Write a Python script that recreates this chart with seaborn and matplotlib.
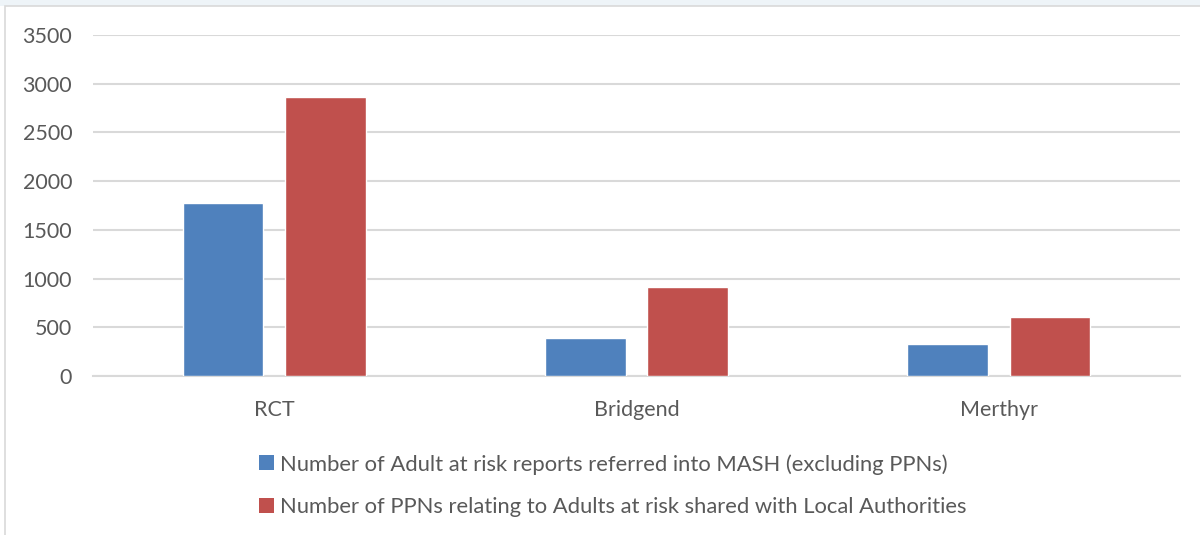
import matplotlib
matplotlib.use("Agg")
import matplotlib.pyplot as plt
import seaborn as sns
import pandas as pd
from matplotlib.patches import Rectangle, Patch

categories = ["RCT", "Bridgend", "Merthyr"]
series_names = [
    "Number of Adult at risk reports referred into MASH (excluding PPNs)",
    "Number of PPNs relating to Adults at risk shared with Local Authorities",
]
mash_reports = [1775, 390, 324]
ppns_shared = [2864, 909, 606]
y_ticks = [0, 500, 1000, 1500, 2000, 2500, 3000, 3500]
colors = ["#4F81BD", "#C0504D"]

df = pd.DataFrame({
    "Area": categories * 2,
    "Series": [series_names[0]] * 3 + [series_names[1]] * 3,
    "Value": mash_reports + ppns_shared,
})

sns.set_theme(style="white")
plt.rcParams["font.family"] = ["Lato", "DejaVu Sans"]
text_color = "#595959"

fig = plt.figure(figsize=(12, 5.35), dpi=100)
fig.patch.set_facecolor("white")
# light top strip and frame
fig.patches.append(Rectangle((0, 1 - 6 / 535), 1, 6 / 535, transform=fig.transFigure,
                             facecolor="#eef4f8", edgecolor="none", zorder=-10))
fig.patches.append(Rectangle((5 / 1200, -0.01), 1.1, 1 - 6 / 535 + 0.01, transform=fig.transFigure,
                             facecolor="white", edgecolor="#d9d9d9", linewidth=1.2, zorder=-10))

ax = fig.add_axes([93 / 1200, 1 - 376 / 535, (1180 - 93) / 1200, (376 - 35) / 535])
ax.set_facecolor("none")
sns.barplot(data=df, x="Area", y="Value", hue="Series", hue_order=series_names,
            order=categories, palette=colors, width=0.566, gap=0.214, ax=ax,
            legend=False, saturation=1, zorder=3)

ax.set_ylim(0, 3500)
ax.set_xlim(-0.5, 2.5)
ax.set_yticks(y_ticks)
ax.set_yticklabels([str(t) for t in y_ticks])
ax.grid(axis="y", color="#d9d9d9", linewidth=1.5, zorder=0)
ax.set_axisbelow(True)
for s in ["top", "right", "left"]:
    ax.spines[s].set_visible(False)
ax.spines["bottom"].set_color("#d9d9d9")
ax.spines["bottom"].set_linewidth(1.5)
ax.set_xlabel("")
ax.set_ylabel("")
ax.tick_params(axis="both", length=0, labelsize=15.5, colors=text_color)
ax.tick_params(axis="y", pad=15)
ax.tick_params(axis="x", pad=17)

handles = [Patch(facecolor=c, edgecolor="none") for c in colors]
leg = fig.legend(handles, series_names, loc="upper left",
                 bbox_to_anchor=(248 / 1200, 1 - 443 / 535), frameon=False,
                 fontsize=15.8, handlelength=0.68, handleheight=0.68,
                 handletextpad=0.3, labelspacing=1.02, borderpad=0)
for t in leg.get_texts():
    t.set_color(text_color)

fig.savefig("out.png", dpi=100, facecolor=fig.get_facecolor())
